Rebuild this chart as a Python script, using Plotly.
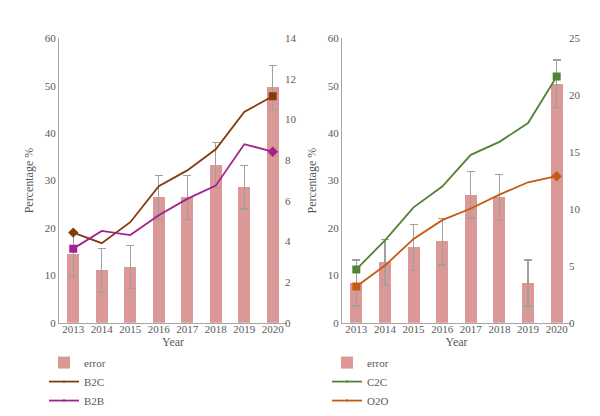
import plotly.graph_objects as go

years = ["2013", "2014", "2015", "2016", "2017", "2018", "2019", "2020"]

# Left panel
bars_left = [14.4, 11.0, 11.8, 26.4, 26.4, 33.3, 28.6, 49.6]
err_left = [4.6, 4.6, 4.5, 4.6, 4.6, 4.7, 4.6, 4.7]
b2c = [4.44, 3.92, 4.95, 6.72, 7.50, 8.54, 10.38, 11.15]
b2b = [3.65, 4.52, 4.32, 5.29, 6.10, 6.75, 8.79, 8.42]

# Right panel
bars_right = [8.4, 12.7, 15.9, 17.1, 27.0, 26.5, 8.4, 50.4]
err_right = [4.85, 4.9, 4.9, 4.9, 4.9, 4.85, 4.85, 5.0]
c2c = [4.69, 7.25, 10.15, 11.97, 14.76, 15.9, 17.55, 21.65]
o2o = [3.19, 5.03, 7.37, 9.02, 10.04, 11.26, 12.35, 12.88]

xi = list(range(len(years)))
W, H = 600, 416
FONT = "Liberation Serif"
TXT = "#595959"
BAR = "#DA9896"
ERR = "#A0A0A0"

def msizes(n, s=8):
    return [s] + [0] * (n - 2) + [s]

fig = go.Figure()

def add_panel(bars, err, lines, xa, ya, ya2, legend):
    fig.add_trace(go.Bar(
        x=xi, y=bars, name="error", marker=dict(color=BAR, line=dict(width=0)), width=0.42,
        error_y=dict(type="data", array=err, color=ERR, thickness=1.2, width=4),
        xaxis=xa, yaxis=ya, legend=legend))
    for name, vals, color, syms in lines:
        fig.add_trace(go.Scatter(
            x=xi, y=vals, name=name, mode="lines+markers",
            line=dict(color=color, width=1.8),
            marker=dict(color=color, size=msizes(len(vals)), symbol=syms,
                        opacity=1, line=dict(width=0)),
            xaxis=xa, yaxis=ya2, legend=legend))

add_panel(bars_left, err_left,
          [("B2C", b2c, "#843C0C", ["diamond"] + ["circle"] * 6 + ["square"]),
           ("B2B", b2b, "#A3228F", ["square"] + ["circle"] * 6 + ["diamond"])],
          "x", "y", "y2", "legend")
add_panel(bars_right, err_right,
          [("C2C", c2c, "#548235", ["square"] + ["circle"] * 6 + ["square"]),
           ("O2O", o2o, "#C55A11", ["square"] + ["circle"] * 6 + ["diamond"])],
          "x2", "y3", "y4", "legend2")

ydom = [1 - 318 / H, 1 - 25 / H]
tickfont = dict(family=FONT, size=11, color=TXT)

def xaxis(dom, anchor):
    return dict(domain=dom, anchor=anchor, range=[-0.5, 7.5], tickvals=xi, ticktext=years,
                showline=True, linecolor="#A6A6A6", linewidth=1, ticks="", showgrid=False,
                zeroline=False, tickfont=tickfont, ticklabelstandoff=-4,
                title=dict(text="Year", font=dict(family=FONT, size=12, color=TXT), standoff=0))

def yaxis(anchor, rng, dtick):
    return dict(anchor=anchor, domain=ydom, range=rng, dtick=dtick, showgrid=False,
                zeroline=False, showline=True, linecolor="#A6A6A6", linewidth=1,
                ticks="", tickfont=tickfont,
                title=dict(text="Percentage %", font=dict(family=FONT, size=12, color=TXT), standoff=8))

def yaxis2(anchor, overlay, rng, dtick):
    return dict(anchor=anchor, overlaying=overlay, side="right", range=rng, dtick=dtick,
                showgrid=False, zeroline=False, showline=False, ticks="",
                tickfont=tickfont, ticklabelstandoff=-3)

legfont = dict(family=FONT, size=11, color=TXT)
fig.update_layout(
    width=W, height=H, margin=dict(l=0, r=0, t=0, b=0),
    paper_bgcolor="white", plot_bgcolor="white", bargap=0,
    xaxis=xaxis([51 / W, 279 / W], "y"),
    xaxis2=xaxis([334 / W, 563 / W], "y3"),
    yaxis=yaxis("x", [0, 60], 10),
    yaxis2=yaxis2("x", "y", [0, 14], 2),
    yaxis3=yaxis("x2", [0, 60], 10),
    yaxis4=yaxis2("x2", "y3", [0, 25], 5),
    legend=dict(x=36 / W, y=1 - 344 / H, xanchor="left", yanchor="top", font=legfont,
                tracegroupgap=0, bgcolor="rgba(0,0,0,0)"),
    legend2=dict(x=319 / W, y=1 - 344 / H, xanchor="left", yanchor="top", font=legfont,
                 tracegroupgap=0, bgcolor="rgba(0,0,0,0)"),
    showlegend=True,
)

fig.write_html("out.html")
